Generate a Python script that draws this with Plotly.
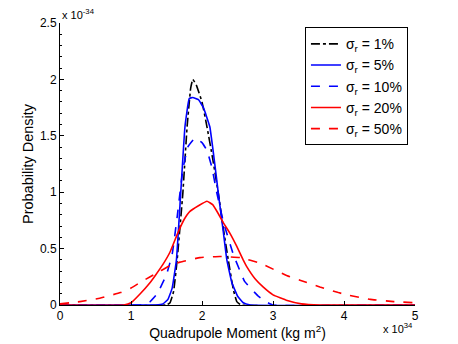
import plotly.graph_objects as go

# values (x in 1e34 kg m^2, density in 1e-34)
x_1 = [0, 1.5, 1.55, 1.6, 1.65, 1.73, 1.79, 1.84, 1.87, 1.92, 2.0, 2.07, 2.15, 2.23, 2.3, 2.37, 2.44, 2.49, 2.55, 5]
y_1 = [0, 0, 0.02, 0.12, 0.4, 0.99, 1.58, 1.92, 2.0, 1.95, 1.8, 1.58, 1.3, 0.99, 0.68, 0.4, 0.14, 0.03, 0, 0]

x_5 = [0, 1.35, 1.45, 1.52, 1.58, 1.64, 1.7, 1.76, 1.82, 1.87, 1.95, 2.02, 2.11, 2.18, 2.23, 2.3, 2.35, 2.42, 2.5, 2.58, 2.68, 5]
y_5 = [0, 0, 0.01, 0.05, 0.15, 0.4, 0.99, 1.58, 1.83, 1.84, 1.82, 1.75, 1.58, 1.25, 0.99, 0.65, 0.4, 0.2, 0.08, 0.02, 0, 0]

x_10 = [0, 1.15, 1.27, 1.37, 1.5, 1.58, 1.65, 1.73, 1.8, 1.9, 2.0, 2.07, 2.14, 2.2, 2.3, 2.44, 2.6, 2.79, 2.9, 3.0, 5]
y_10 = [0, 0, 0.03, 0.1, 0.27, 0.45, 0.78, 1.2, 1.4, 1.48, 1.44, 1.37, 1.22, 1.02, 0.74, 0.45, 0.21, 0.08, 0.03, 0, 0]

x_20 = [0, 0.9, 1.0, 1.13, 1.27, 1.34, 1.45, 1.55, 1.66, 1.75, 1.83, 1.95, 2.07, 2.15, 2.22, 2.3, 2.39, 2.49, 2.58, 2.63, 2.75, 2.86, 3.0, 3.2, 3.4, 3.66, 5]
y_20 = [0, 0, 0.02, 0.1, 0.2, 0.26, 0.36, 0.47, 0.64, 0.76, 0.83, 0.88, 0.92, 0.89, 0.82, 0.73, 0.64, 0.52, 0.4, 0.34, 0.23, 0.16, 0.09, 0.04, 0.01, 0, 0]

x_50 = [0, 0.28, 0.56, 0.85, 1.0, 1.13, 1.27, 1.41, 1.55, 1.69, 1.97, 2.25, 2.54, 2.82, 3.2, 3.38, 3.66, 3.92, 4.08, 4.37, 4.7, 5.0]
y_50 = [0.01, 0.03, 0.06, 0.11, 0.15, 0.2, 0.25, 0.3, 0.35, 0.38, 0.42, 0.43, 0.42, 0.37, 0.26, 0.22, 0.16, 0.11, 0.085, 0.05, 0.03, 0.02]

series = [
    ('1%', x_1, y_1, 'black', 'dashdot'),
    ('5%', x_5, y_5, 'blue', 'solid'),
    ('10%', x_10, y_10, 'blue', 'dash'),
    ('20%', x_20, y_20, 'red', 'solid'),
    ('50%', x_50, y_50, 'red', 'dash'),
]

fig = go.Figure()

for label, xs, ys, color, dash in series:
    fig.add_trace(
        go.Scatter(x=xs, y=ys,
                   mode='lines',
                   name=f'σ<sub>r</sub> = {label}',
                   line=dict(color=color, dash=dash, width=1.6, shape='spline', smoothing=0.3))
    )

font_name = 'Liberation Sans, Arial, sans-serif'

fig.update_layout(
    width=458, height=344,
    margin=dict(l=60, r=43, t=23, b=39),
    plot_bgcolor='white',
    paper_bgcolor='white',
    font=dict(family=font_name, size=12, color='black'),
    showlegend=True,
    legend=dict(
        x=0.69, y=0.985,
        xanchor='left', yanchor='top',
        bgcolor='white',
        bordercolor='black',
        borderwidth=1,
        font=dict(family=font_name, size=14, color='black'),
        tracegroupgap=0,
        itemwidth=30,
    ),
    xaxis=dict(
        range=[0, 5], tickvals=[0, 1, 2, 3, 4, 5],
        showgrid=False, zeroline=False, automargin=False,
        showline=True, linecolor='black', linewidth=1,
        ticks='inside', ticklen=4, tickcolor='black',
        title=dict(text='Quadrupole Moment (kg m<sup>2</sup>)', font=dict(size=14), standoff=0),
    ),
    yaxis=dict(
        range=[0, 2.5], tickvals=[0, 0.5, 1, 1.5, 2, 2.5],
        ticktext=['0', '0.5', '1', '1.5', '2', '2.5'],
        showgrid=False, zeroline=False, automargin=False,
        showline=True, linecolor='black', linewidth=1,
        ticks='inside', ticklen=4, tickcolor='black',
        minor=dict(dtick=0.1, ticks='inside', ticklen=2, tickcolor='black'),
        title=dict(text='Probability Density', font=dict(size=14.5), standoff=2),
    ),
)

fig.add_annotation(x=0, y=1, xref='paper', yref='paper',
                   xanchor='left', yanchor='bottom', yshift=0,
                   text='x 10<sup>-34</sup>', showarrow=False,
                   font=dict(size=11))
fig.add_annotation(x=1, y=0, xref='paper', yref='paper',
                   xanchor='right', yanchor='top', yshift=-14,
                   text='x 10<sup>34</sup>', showarrow=False,
                   font=dict(size=11))

# drop the browser's default 8px body margin so the figure sits at the page corner
fig.write_html("out.html", config={'displayModeBar': False},
               post_script="document.body.style.margin='0';")
